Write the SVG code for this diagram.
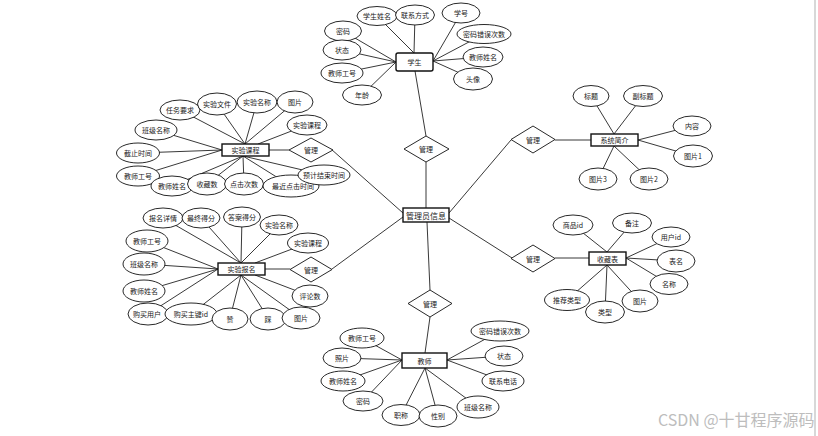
<svg xmlns="http://www.w3.org/2000/svg" width="818" height="436" viewBox="0 0 818 436">
<style>
.c line{stroke:#222;stroke-width:0.9}
ellipse{fill:#fff;stroke:#111;stroke-width:0.9}
.ent rect{fill:#fff;stroke:#111;stroke-width:1.4}
.rel polygon{fill:#fff;stroke:#111;stroke-width:0.9}
text{font-family:"Noto Sans CJK SC","Noto Sans",sans-serif;font-size:7px;fill:#1a1a1a;text-anchor:middle;dominant-baseline:central}
.wm{font-size:16px;fill:#bdbdbd;text-anchor:start}
</style>
<rect width="818" height="436" fill="#fff"/>
<line x1="815" y1="0" x2="815" y2="436" stroke="#d8d8d8" stroke-width="2"/>
<g id="connectors" class="c">
<!-- 学生 -->
<line x1="377" y1="16" x2="414" y2="53"/><line x1="415" y1="15" x2="414" y2="53"/>
<line x1="461" y1="13" x2="433" y2="61"/><line x1="484" y1="34" x2="433" y2="61"/>
<line x1="483" y1="57" x2="433" y2="61"/><line x1="473" y1="79" x2="433" y2="61"/>
<line x1="343" y1="31" x2="396" y2="62"/><line x1="342" y1="50" x2="396" y2="62"/>
<line x1="342" y1="73" x2="396" y2="62"/><line x1="362" y1="95" x2="396" y2="62"/>
<line x1="415" y1="71" x2="426" y2="136"/>
<!-- 管理员信息 -->
<line x1="426" y1="162" x2="426" y2="208"/>
<line x1="427" y1="222" x2="430" y2="290"/>
<line x1="331" y1="149" x2="403" y2="213"/>
<line x1="332" y1="269" x2="403" y2="217"/>
<line x1="511" y1="140" x2="449" y2="213"/>
<line x1="512" y1="258" x2="449" y2="218"/>
<line x1="430" y1="317" x2="425" y2="353"/>
<!-- 实验课程 -->
<line x1="180" y1="110" x2="245" y2="144"/><line x1="217" y1="104" x2="245" y2="144"/>
<line x1="257" y1="102" x2="245" y2="144"/><line x1="295" y1="102" x2="245" y2="144"/>
<line x1="307" y1="125" x2="258" y2="144"/>
<line x1="156" y1="130" x2="222" y2="150"/><line x1="138" y1="153" x2="222" y2="150"/>
<line x1="138" y1="176" x2="222" y2="150"/>
<line x1="172" y1="186" x2="243" y2="156"/><line x1="207" y1="184" x2="243" y2="156"/>
<line x1="244" y1="184" x2="243" y2="156"/><line x1="291" y1="186" x2="243" y2="156"/>
<line x1="324" y1="175" x2="243" y2="156"/>
<line x1="269" y1="150" x2="289" y2="150"/>
<!-- 实验报名 -->
<line x1="163" y1="218" x2="241" y2="263"/><line x1="201" y1="218" x2="241" y2="263"/>
<line x1="242" y1="217" x2="241" y2="263"/><line x1="279" y1="225" x2="241" y2="263"/>
<line x1="308" y1="243" x2="255" y2="263"/>
<line x1="147" y1="241" x2="218" y2="269"/><line x1="144" y1="264" x2="218" y2="269"/>
<line x1="144" y1="291" x2="218" y2="269"/><line x1="148" y1="314" x2="218" y2="269"/>
<line x1="191" y1="314" x2="241" y2="275"/><line x1="230" y1="318" x2="241" y2="275"/>
<line x1="268" y1="318" x2="241" y2="275"/><line x1="301" y1="318" x2="241" y2="275"/>
<line x1="310" y1="296" x2="255" y2="275"/>
<line x1="265" y1="269" x2="290" y2="269"/>
<!-- 教师 -->
<line x1="362" y1="338" x2="402" y2="360"/><line x1="342" y1="358" x2="402" y2="360"/>
<line x1="343" y1="381" x2="402" y2="360"/><line x1="363" y1="401" x2="402" y2="360"/>
<line x1="401" y1="415" x2="425" y2="368"/><line x1="438" y1="416" x2="425" y2="368"/>
<line x1="478" y1="407" x2="425" y2="368"/>
<line x1="503" y1="381" x2="447" y2="360"/><line x1="504" y1="356" x2="447" y2="360"/>
<line x1="500" y1="331" x2="447" y2="360"/>
<!-- 系统简介 -->
<line x1="591" y1="96" x2="614" y2="134"/><line x1="643" y1="96" x2="614" y2="134"/>
<line x1="692" y1="126" x2="638" y2="140"/><line x1="693" y1="156" x2="638" y2="140"/>
<line x1="598" y1="179" x2="614" y2="146"/><line x1="649" y1="179" x2="614" y2="146"/>
<line x1="555" y1="140" x2="591" y2="140"/>
<!-- 收藏表 -->
<line x1="573" y1="225" x2="607" y2="252"/><line x1="632" y1="223" x2="607" y2="252"/>
<line x1="671" y1="237" x2="626" y2="258"/><line x1="676" y1="261" x2="626" y2="258"/>
<line x1="669" y1="284" x2="626" y2="258"/>
<line x1="640" y1="301" x2="607" y2="265"/><line x1="605" y1="312" x2="607" y2="265"/>
<line x1="567" y1="300" x2="607" y2="265"/>
<line x1="555" y1="258" x2="589" y2="258"/>
</g>

<g id="student-attrs">
<ellipse cx="377" cy="16" rx="20" ry="9.5"/><text x="377" y="16">学生姓名</text>
<ellipse cx="415" cy="15" rx="19.5" ry="10"/><text x="415" y="15">联系方式</text>
<ellipse cx="461" cy="13" rx="19" ry="10"/><text x="461" y="13">学号</text>
<ellipse cx="484" cy="34" rx="27" ry="9.5"/><text x="484" y="34">密码错误次数</text>
<ellipse cx="483" cy="57" rx="20" ry="10"/><text x="483" y="57">教师姓名</text>
<ellipse cx="473" cy="79" rx="19.5" ry="11"/><text x="473" y="79">头像</text>
<ellipse cx="343" cy="31" rx="18.5" ry="10"/><text x="343" y="31">密码</text>
<ellipse cx="342" cy="50" rx="19" ry="10"/><text x="342" y="50">状态</text>
<ellipse cx="342" cy="73" rx="21" ry="10"/><text x="342" y="73">教师工号</text>
<ellipse cx="362" cy="95" rx="19.5" ry="10"/><text x="362" y="95">年龄</text>
</g>
<g id="student" class="ent"><rect x="396" y="53" width="37" height="18" rx="2"/><text x="414.5" y="62">学生</text></g>

<g id="course-attrs">
<ellipse cx="180" cy="110" rx="20" ry="10"/><text x="180" y="110">任务要求</text>
<ellipse cx="217" cy="104" rx="19.5" ry="11"/><text x="217" y="104">实验文件</text>
<ellipse cx="257" cy="102" rx="20" ry="11"/><text x="257" y="102">实验名称</text>
<ellipse cx="295" cy="102" rx="18" ry="11"/><text x="295" y="102">图片</text>
<ellipse cx="307" cy="125" rx="20" ry="10"/><text x="307" y="125">实验课程</text>
<ellipse cx="156" cy="130" rx="21" ry="10"/><text x="156" y="130">班级名称</text>
<ellipse cx="138" cy="153" rx="21.5" ry="10"/><text x="138" y="153">截止时间</text>
<ellipse cx="138" cy="176" rx="21.5" ry="10"/><text x="138" y="176">教师工号</text>
<ellipse cx="172" cy="186" rx="21" ry="10"/><text x="172" y="186">教师姓名</text>
<ellipse cx="207" cy="184" rx="19.5" ry="11"/><text x="207" y="184">收藏数</text>
<ellipse cx="244" cy="184" rx="19.5" ry="11"/><text x="244" y="184">点击次数</text>
<ellipse cx="291" cy="186" rx="28" ry="11"/><text x="293" y="186">最近点击时间</text>
<ellipse cx="324" cy="175" rx="26" ry="10"/><text x="324" y="175">预计结束时间</text>
</g>
<g id="course" class="ent"><rect x="222" y="144" width="47" height="12"/><text x="245.5" y="150">实验课程</text></g>
<g id="rel-course" class="rel"><polygon points="311,138 333,150 311,162 289,150"/><text x="311" y="150">管理</text></g>

<g id="signup-attrs">
<ellipse cx="163" cy="218" rx="20" ry="10"/><text x="163" y="218">报名详情</text>
<ellipse cx="201" cy="218" rx="19" ry="10"/><text x="201" y="218">最终得分</text>
<ellipse cx="242" cy="217" rx="18.5" ry="10"/><text x="242" y="217">答案得分</text>
<ellipse cx="279" cy="225" rx="19" ry="10"/><text x="279" y="225">实验名称</text>
<ellipse cx="308" cy="243" rx="20.5" ry="10"/><text x="308" y="243">实验课程</text>
<ellipse cx="147" cy="241" rx="21" ry="11"/><text x="147" y="241">教师工号</text>
<ellipse cx="144" cy="264" rx="21" ry="11"/><text x="144" y="264">班级名称</text>
<ellipse cx="144" cy="291" rx="21" ry="11"/><text x="144" y="291">教师姓名</text>
<ellipse cx="310" cy="296" rx="18" ry="11"/><text x="310" y="296">评论数</text>
<ellipse cx="148" cy="314" rx="20" ry="11"/><text x="147" y="314">购买用户</text>
<ellipse cx="191" cy="314" rx="26" ry="11"/><text x="191" y="314">购买主键id</text>
<ellipse cx="230" cy="319" rx="18" ry="11"/><text x="230" y="319">赞</text>
<ellipse cx="268" cy="319" rx="18" ry="11"/><text x="268" y="319">踩</text>
<ellipse cx="301" cy="318" rx="19" ry="11"/><text x="301" y="318">图片</text>
</g>
<g id="signup" class="ent"><rect x="218" y="263" width="47" height="12"/><text x="241.5" y="269">实验报名</text></g>
<g id="rel-signup" class="rel"><polygon points="311,257 332,269.5 311,282 290,269.5"/><text x="311" y="269.5">管理</text></g>

<g id="admin" class="ent"><rect x="403" y="208" width="46" height="14"/><text x="426" y="215" style="font-size:8px">管理员信息</text></g>
<g id="rel-student" class="rel"><polygon points="426,136 449,149 426,162 404,149"/><text x="426" y="149">管理</text></g>
<g id="rel-teacher" class="rel"><polygon points="430,290 452,303.5 430,317 408,303.5"/><text x="430" y="303.5">管理</text></g>

<g id="teacher-attrs">
<ellipse cx="362" cy="338" rx="22" ry="10"/><text x="362" y="338">教师工号</text>
<ellipse cx="342" cy="358" rx="19" ry="10"/><text x="342" y="358">照片</text>
<ellipse cx="343" cy="381" rx="22" ry="10"/><text x="343" y="381">教师姓名</text>
<ellipse cx="363" cy="401" rx="20" ry="10"/><text x="363" y="401">密码</text>
<ellipse cx="401" cy="415" rx="19" ry="10.5"/><text x="401" y="415">职称</text>
<ellipse cx="438" cy="416" rx="19" ry="11"/><text x="438" y="416">性别</text>
<ellipse cx="478" cy="407" rx="21" ry="11"/><text x="478" y="407">班级名称</text>
<ellipse cx="503" cy="381" rx="21" ry="10"/><text x="503" y="381">联系电话</text>
<ellipse cx="504" cy="356" rx="19" ry="10"/><text x="504" y="356">状态</text>
<ellipse cx="500" cy="331" rx="29" ry="10"/><text x="500" y="331">密码错误次数</text>
</g>
<g id="teacher" class="ent"><rect x="402" y="353" width="45" height="15"/><text x="424.5" y="360.5">教师</text></g>

<g id="intro-attrs">
<ellipse cx="591" cy="96" rx="18" ry="10.5"/><text x="591" y="96">标题</text>
<ellipse cx="643" cy="96" rx="19.5" ry="10.5"/><text x="643" y="96">副标题</text>
<ellipse cx="692" cy="126" rx="19" ry="10"/><text x="692" y="126">内容</text>
<ellipse cx="693" cy="156" rx="19.5" ry="11"/><text x="693" y="156">图片1</text>
<ellipse cx="598" cy="179" rx="19" ry="11"/><text x="598" y="179">图片3</text>
<ellipse cx="649" cy="179" rx="19" ry="11"/><text x="649" y="179">图片2</text>
</g>
<g id="intro" class="ent"><rect x="591" y="134" width="47" height="12"/><text x="614.5" y="140">系统简介</text></g>
<g id="rel-intro" class="rel"><polygon points="533,126 555,139.5 533,153 511,139.5"/><text x="533" y="139.5">管理</text></g>

<g id="fav-attrs">
<ellipse cx="573" cy="225" rx="20" ry="10"/><text x="573" y="225">商品id</text>
<ellipse cx="632" cy="223" rx="19.5" ry="10"/><text x="632" y="223">备注</text>
<ellipse cx="671" cy="237" rx="19" ry="10"/><text x="671" y="237">用户id</text>
<ellipse cx="676" cy="261" rx="19" ry="11"/><text x="676" y="261">表名</text>
<ellipse cx="669" cy="284" rx="19" ry="10.5"/><text x="669" y="284">名称</text>
<ellipse cx="640" cy="301" rx="18" ry="11"/><text x="640" y="301">图片</text>
<ellipse cx="605" cy="312" rx="19.5" ry="11"/><text x="605" y="312">类型</text>
<ellipse cx="567" cy="300" rx="22.5" ry="10.5"/><text x="567" y="300">推荐类型</text>
</g>
<g id="fav" class="ent"><rect x="589" y="252" width="37" height="13"/><text x="607.5" y="258.5">收藏表</text></g>
<g id="rel-fav" class="rel"><polygon points="533,245 555,258.5 533,272 511,258.5"/><text x="533" y="258.5">管理</text></g>

<text class="wm" x="658" y="419">CSDN @十甘程序源码</text>
</svg>
